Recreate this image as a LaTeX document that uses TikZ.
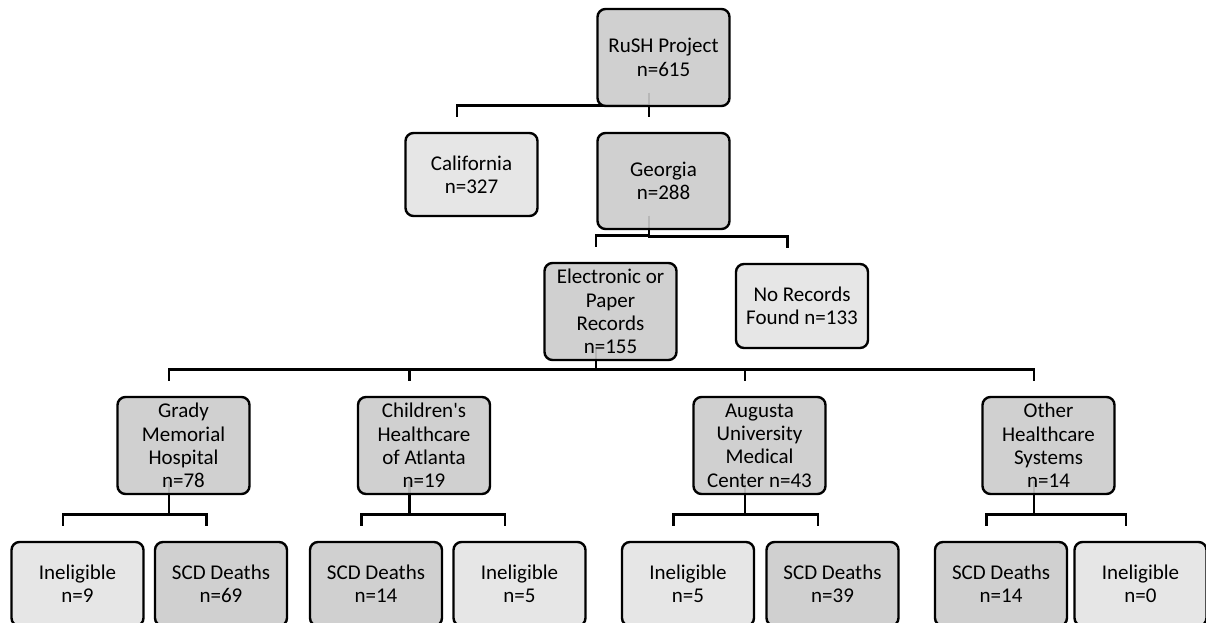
\documentclass[tikz,border=0pt]{standalone}
\usepackage{fontspec}
\setmainfont{Carlito}
\usetikzlibrary{backgrounds, calc}
\definecolor{boxdark}{HTML}{CBCBCB}
\definecolor{boxlight}{HTML}{E3E3E3}
\tikzset{
  box/.style={draw=black, line width=2.4pt, rounded corners=8pt, minimum width=132pt,
    inner sep=2pt, align=center, fill opacity=0.9, text opacity=1,
    font=\fontsize{21}{23.3}\selectfont},
  darkbox/.style={box, fill=boxdark},
  lightbox/.style={box, fill=boxlight},
  conn/.style={draw=black, line width=2.8pt}
}

\begin{document}
\begin{tikzpicture}[x=1pt, y=-1pt]
          \useasboundingbox (0,0) rectangle (1206,623);
          \clip (0,0) rectangle (1206,623);
          % Project and states
          \node[darkbox, minimum height=97pt] (rush) at (663.5,57.5) {RuSH Project\\n=615};
          \node[lightbox, minimum height=83pt] (cal) at (471.5,174.5) {California\\n=327};
          \node[darkbox, minimum height=96pt] (geo) at (663.5,181) {Georgia\\n=288};
          % Records
          \node[darkbox, minimum height=97pt] (elec) at (610.5,311.5) {Electronic or\\Paper\\Records\\n=155};
          \node[lightbox, minimum height=84pt] (norec) at (802,306) {No Records\\Found n=133};
          % Healthcare systems
          \node[darkbox, minimum height=97pt] (grady) at (183.5,445.5) {Grady\\Memorial\\Hospital\\n=78};
          \node[darkbox, minimum height=97pt] (child) at (424,445.5) {Children\textquotesingle s\\Healthcare\\of Atlanta\\n=19};
          \node[darkbox, minimum height=97pt] (aug) at (759.5,445.5) {Augusta\\University\\Medical\\Center n=43};
          \node[darkbox, minimum height=97pt] (other) at (1048.5,445.5) {Other\\Healthcare\\Systems\\n=14};
          % Outcomes
          \node[lightbox, minimum height=84pt] (ineA) at (77.5,584) {Ineligible\\n=9};
          \node[darkbox, minimum height=84pt] (scdA) at (221,584) {SCD Deaths\\n=69};
          \node[darkbox, minimum height=84pt] (scdB) at (376,584) {SCD Deaths\\n=14};
          \node[lightbox, minimum height=84pt] (ineB) at (519.5,584) {Ineligible\\n=5};
          \node[lightbox, minimum height=84pt] (ineC) at (688,584) {Ineligible\\n=5};
          \node[darkbox, minimum height=84pt] (scdC) at (832.5,584) {SCD Deaths\\n=39};
          \node[darkbox, minimum height=84pt] (scdD) at (1001,584) {SCD Deaths\\n=14};
          \node[lightbox, minimum height=84pt] (ineD) at (1140.5,584) {Ineligible\\n=0};
          % Connectors
          \begin{scope}[on background layer]
            \foreach \p/\c in {rush/cal, rush/geo, geo/elec, geo/norec,
                elec/grady, elec/child, elec/aug, elec/other,
                grady/ineA, grady/scdA, child/scdB, child/ineB,
                aug/ineC, aug/scdC, other/scdD, other/ineD}
              \draw[conn] ($(\p.south)+(-14.5,-14.5)$) |- ($(\c.north)+(-14.5,-26)$)
                -- ($(\c.north)+(-14.5,-14.5)$);
          \end{scope}
        \end{tikzpicture}
\end{document}
